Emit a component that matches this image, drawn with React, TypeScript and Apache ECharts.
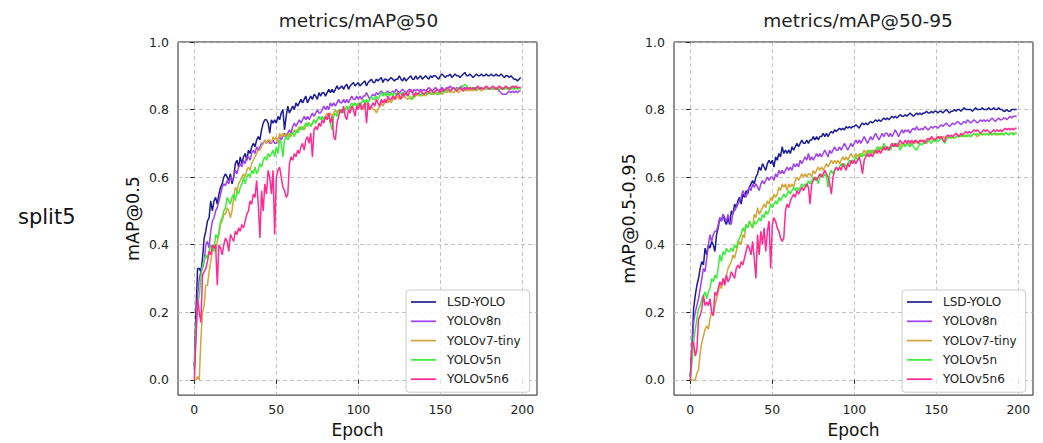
import React, { useEffect, useRef } from "react";
import * as echarts from "echarts";

const SERIES_NAMES = ["LSD-YOLO", "YOLOv8n", "YOLOv7-tiny", "YOLOv5n", "YOLOv5n6"];
const COLORS = ["#1c1c96", "#a040f0", "#d4a537", "#3cee3c", "#ff2a92"];
const X_TICKS = [0, 50, 100, 150, 200];
const Y_TICKS = [0, 0.2, 0.4, 0.6, 0.8, 1.0];
const TITLES = ["metrics/mAP@50", "metrics/mAP@50-95"];
const Y_NAMES = ["mAP@0.5", "mAP@0.5-0.95"];
const X_NAME = "Epoch";
const ROW_LABEL = "split5";

// ---- metrics/mAP@50 (epochs 0..199) ----
const L_LSD = [
0.04,0.20,0.33,0.33,0.32,0.36,0.42,0.44,0.47,0.48,
0.53,0.50,0.53,0.54,0.52,0.55,0.57,0.58,0.60,0.61,
0.60,0.59,0.61,0.58,0.60,0.64,0.65,0.63,0.66,0.64,
0.66,0.67,0.65,0.68,0.67,0.69,0.70,0.69,0.71,0.72,
0.71,0.74,0.76,0.77,0.77,0.76,0.73,0.77,0.76,0.77,
0.76,0.78,0.77,0.79,0.80,0.74,0.78,0.81,0.79,0.80,
0.81,0.80,0.82,0.81,0.82,0.83,0.82,0.83,0.84,0.82,
0.83,0.84,0.83,0.845,0.84,0.83,0.85,0.84,0.85,0.85,
0.84,0.85,0.86,0.85,0.86,0.85,0.86,0.87,0.86,0.865,
0.87,0.86,0.87,0.875,0.86,0.87,0.875,0.88,0.87,0.875,
0.88,0.87,0.875,0.88,0.885,0.87,0.88,0.885,0.89,0.88,
0.88,0.89,0.885,0.89,0.895,0.88,0.89,0.89,0.885,0.89,
0.895,0.89,0.885,0.89,0.89,0.90,0.89,0.885,0.895,0.885,
0.89,0.895,0.90,0.89,0.89,0.90,0.89,0.895,0.90,0.89,
0.895,0.90,0.895,0.89,0.90,0.895,0.90,0.90,0.895,0.89,
0.90,0.905,0.90,0.895,0.90,0.90,0.905,0.895,0.90,0.905,
0.90,0.90,0.895,0.90,0.905,0.91,0.90,0.90,0.905,0.90,
0.895,0.90,0.905,0.90,0.90,0.905,0.90,0.90,0.905,0.90,
0.90,0.905,0.90,0.90,0.905,0.90,0.90,0.905,0.90,0.895,
0.90,0.90,0.895,0.90,0.895,0.89,0.89,0.885,0.89,0.895];
const L_V8 = [
0.03,0.15,0.25,0.30,0.32,0.33,0.35,0.40,0.41,0.39,
0.44,0.47,0.48,0.50,0.51,0.53,0.55,0.57,0.58,0.575,
0.59,0.58,0.60,0.59,0.60,0.62,0.61,0.63,0.64,0.63,
0.65,0.64,0.66,0.66,0.65,0.67,0.68,0.67,0.69,0.68,
0.69,0.70,0.70,0.71,0.70,0.71,0.70,0.70,0.71,0.70,
0.70,0.71,0.72,0.71,0.72,0.73,0.72,0.73,0.74,0.73,
0.75,0.76,0.75,0.76,0.77,0.76,0.77,0.78,0.77,0.78,
0.77,0.78,0.79,0.78,0.79,0.80,0.79,0.79,0.80,0.81,
0.80,0.81,0.80,0.82,0.81,0.82,0.81,0.82,0.83,0.82,
0.82,0.83,0.82,0.83,0.82,0.83,0.84,0.83,0.83,0.84,
0.83,0.84,0.83,0.84,0.84,0.85,0.84,0.83,0.84,0.845,
0.84,0.85,0.845,0.85,0.855,0.85,0.845,0.85,0.855,0.85,
0.85,0.855,0.85,0.86,0.855,0.85,0.855,0.86,0.855,0.85,
0.855,0.86,0.855,0.85,0.86,0.855,0.86,0.855,0.86,0.855,
0.86,0.855,0.86,0.865,0.86,0.855,0.86,0.865,0.86,0.855,
0.86,0.865,0.86,0.855,0.86,0.865,0.87,0.86,0.865,0.86,
0.865,0.86,0.865,0.87,0.86,0.865,0.86,0.865,0.86,0.865,
0.86,0.865,0.86,0.865,0.86,0.865,0.86,0.86,0.865,0.86,
0.86,0.865,0.86,0.86,0.865,0.86,0.855,0.85,0.845,0.845,
0.845,0.85,0.855,0.85,0.855,0.85,0.855,0.85,0.855,0.855];
const L_V7 = [
0.00,0.00,0.01,0.00,0.12,0.20,0.22,0.28,0.28,0.32,
0.35,0.38,0.40,0.38,0.41,0.43,0.46,0.47,0.49,0.49,
0.51,0.50,0.48,0.50,0.54,0.57,0.56,0.58,0.59,0.60,
0.61,0.60,0.62,0.63,0.62,0.64,0.65,0.66,0.67,0.68,
0.68,0.69,0.70,0.71,0.70,0.71,0.71,0.70,0.72,0.71,
0.72,0.70,0.73,0.72,0.73,0.72,0.73,0.72,0.73,0.72,
0.73,0.74,0.73,0.74,0.75,0.74,0.75,0.74,0.75,0.76,
0.76,0.75,0.76,0.77,0.76,0.77,0.78,0.77,0.78,0.77,
0.78,0.79,0.78,0.79,0.78,0.79,0.80,0.79,0.80,0.79,
0.80,0.79,0.80,0.81,0.80,0.81,0.80,0.81,0.82,0.81,
0.81,0.82,0.81,0.80,0.81,0.82,0.81,0.80,0.81,0.80,
0.80,0.79,0.80,0.81,0.82,0.81,0.82,0.83,0.82,0.83,
0.82,0.83,0.84,0.83,0.84,0.83,0.84,0.835,0.84,0.835,
0.83,0.835,0.83,0.84,0.835,0.84,0.845,0.84,0.845,0.84,
0.845,0.84,0.845,0.85,0.845,0.85,0.845,0.85,0.845,0.85,
0.85,0.845,0.85,0.855,0.85,0.855,0.85,0.855,0.85,0.855,
0.855,0.85,0.855,0.86,0.855,0.86,0.855,0.86,0.855,0.86,
0.855,0.86,0.855,0.86,0.86,0.855,0.86,0.86,0.865,0.86,
0.86,0.865,0.86,0.86,0.865,0.86,0.865,0.86,0.865,0.86,
0.865,0.86,0.865,0.86,0.865,0.86,0.865,0.86,0.865,0.865];
const L_V5 = [
0.03,0.15,0.22,0.25,0.30,0.34,0.35,0.37,0.36,0.38,
0.40,0.39,0.38,0.43,0.42,0.44,0.47,0.48,0.50,0.51,
0.54,0.53,0.52,0.54,0.55,0.53,0.56,0.55,0.57,0.58,
0.60,0.58,0.60,0.61,0.60,0.62,0.61,0.63,0.61,0.62,
0.64,0.63,0.65,0.66,0.65,0.67,0.66,0.67,0.68,0.66,
0.69,0.67,0.71,0.70,0.66,0.71,0.72,0.71,0.72,0.73,
0.73,0.72,0.74,0.73,0.74,0.75,0.74,0.75,0.76,0.75,
0.76,0.75,0.76,0.77,0.76,0.77,0.78,0.77,0.78,0.77,
0.78,0.77,0.78,0.76,0.74,0.78,0.79,0.78,0.80,0.79,
0.80,0.79,0.80,0.81,0.80,0.81,0.82,0.81,0.82,0.81,
0.82,0.81,0.82,0.83,0.82,0.83,0.82,0.83,0.84,0.83,
0.83,0.84,0.83,0.84,0.85,0.84,0.85,0.84,0.85,0.84,
0.85,0.84,0.85,0.845,0.85,0.845,0.85,0.84,0.85,0.845,
0.85,0.84,0.835,0.83,0.84,0.85,0.845,0.85,0.84,0.85,
0.845,0.85,0.845,0.855,0.85,0.845,0.85,0.855,0.85,0.845,
0.85,0.855,0.85,0.86,0.855,0.86,0.855,0.86,0.865,0.86,
0.86,0.865,0.86,0.865,0.87,0.875,0.87,0.865,0.86,0.865,
0.86,0.865,0.86,0.865,0.86,0.865,0.86,0.865,0.86,0.865,
0.86,0.865,0.86,0.865,0.86,0.865,0.86,0.865,0.86,0.86,
0.865,0.86,0.865,0.86,0.865,0.86,0.865,0.86,0.865,0.86];
const L_V5N6 = [
0.00,0.12,0.24,0.20,0.17,0.31,0.32,0.33,0.35,0.38,
0.37,0.40,0.39,0.40,0.28,0.40,0.39,0.37,0.40,0.42,
0.41,0.38,0.43,0.42,0.41,0.44,0.43,0.45,0.44,0.46,
0.45,0.47,0.49,0.50,0.53,0.52,0.55,0.54,0.59,0.52,
0.42,0.56,0.50,0.58,0.55,0.62,0.60,0.55,0.62,0.43,
0.60,0.62,0.63,0.60,0.57,0.56,0.54,0.55,0.64,0.66,
0.65,0.67,0.66,0.68,0.67,0.69,0.70,0.68,0.71,0.72,
0.70,0.73,0.66,0.74,0.75,0.74,0.76,0.75,0.77,0.76,
0.78,0.77,0.79,0.76,0.78,0.72,0.71,0.76,0.78,0.80,
0.79,0.81,0.78,0.77,0.80,0.79,0.81,0.80,0.78,0.81,
0.80,0.82,0.80,0.81,0.82,0.76,0.82,0.80,0.81,0.82,
0.81,0.83,0.82,0.81,0.83,0.82,0.83,0.82,0.84,0.83,
0.83,0.84,0.83,0.84,0.85,0.84,0.83,0.85,0.84,0.85,
0.84,0.85,0.86,0.85,0.84,0.85,0.845,0.85,0.855,0.85,
0.845,0.85,0.855,0.85,0.86,0.855,0.85,0.855,0.86,0.855,
0.85,0.86,0.855,0.86,0.865,0.86,0.855,0.86,0.865,0.86,
0.855,0.86,0.865,0.86,0.855,0.86,0.865,0.86,0.865,0.86,
0.865,0.86,0.865,0.87,0.86,0.865,0.86,0.865,0.87,0.865,
0.86,0.865,0.87,0.865,0.86,0.865,0.87,0.865,0.86,0.865,
0.87,0.865,0.86,0.865,0.87,0.865,0.87,0.865,0.865,0.865];

// ---- metrics/mAP@50-95 (epochs 0..199) ----
const R_LSD = [
0.01,0.10,0.21,0.25,0.28,0.30,0.33,0.35,0.34,0.39,
0.37,0.40,0.39,0.41,0.40,0.38,0.43,0.45,0.48,0.47,
0.49,0.47,0.46,0.48,0.46,0.50,0.49,0.52,0.51,0.53,
0.54,0.52,0.55,0.54,0.56,0.55,0.57,0.58,0.59,0.58,
0.60,0.61,0.63,0.62,0.64,0.63,0.62,0.64,0.65,0.64,
0.65,0.63,0.66,0.65,0.67,0.66,0.69,0.67,0.68,0.67,
0.68,0.67,0.69,0.68,0.69,0.70,0.69,0.70,0.71,0.70,
0.70,0.71,0.70,0.71,0.71,0.72,0.71,0.72,0.71,0.72,
0.72,0.73,0.72,0.73,0.72,0.73,0.735,0.73,0.74,0.735,
0.74,0.745,0.74,0.745,0.74,0.75,0.745,0.75,0.745,0.75,
0.75,0.755,0.75,0.745,0.755,0.76,0.755,0.76,0.755,0.76,
0.765,0.76,0.765,0.77,0.765,0.77,0.765,0.77,0.775,0.77,
0.775,0.77,0.775,0.78,0.775,0.78,0.775,0.78,0.785,0.78,
0.78,0.785,0.78,0.785,0.79,0.785,0.78,0.785,0.79,0.785,
0.79,0.785,0.79,0.79,0.795,0.79,0.79,0.795,0.79,0.795,
0.795,0.79,0.795,0.795,0.79,0.795,0.80,0.795,0.79,0.795,
0.795,0.80,0.795,0.80,0.80,0.795,0.80,0.805,0.80,0.80,
0.80,0.80,0.795,0.80,0.805,0.80,0.80,0.80,0.805,0.80,
0.80,0.80,0.805,0.80,0.80,0.805,0.80,0.80,0.805,0.80,
0.80,0.795,0.795,0.80,0.795,0.795,0.80,0.80,0.80,0.80];
const R_V8 = [
0.01,0.08,0.17,0.20,0.22,0.24,0.27,0.30,0.33,0.32,
0.36,0.40,0.43,0.41,0.43,0.44,0.44,0.46,0.48,0.47,
0.49,0.48,0.47,0.49,0.47,0.46,0.50,0.50,0.51,0.52,
0.53,0.54,0.56,0.55,0.54,0.56,0.57,0.56,0.58,0.57,
0.58,0.57,0.56,0.58,0.59,0.58,0.59,0.60,0.59,0.60,
0.60,0.59,0.61,0.60,0.62,0.61,0.62,0.61,0.62,0.63,
0.62,0.63,0.62,0.64,0.63,0.64,0.63,0.65,0.64,0.65,
0.66,0.65,0.67,0.65,0.66,0.65,0.66,0.67,0.66,0.67,
0.66,0.67,0.68,0.67,0.66,0.68,0.67,0.68,0.69,0.68,
0.68,0.69,0.68,0.69,0.70,0.69,0.68,0.69,0.70,0.69,
0.70,0.71,0.70,0.71,0.70,0.71,0.72,0.71,0.70,0.71,
0.72,0.71,0.72,0.73,0.72,0.71,0.72,0.73,0.72,0.73,
0.73,0.72,0.73,0.72,0.73,0.74,0.73,0.72,0.73,0.74,
0.73,0.74,0.735,0.74,0.73,0.74,0.745,0.74,0.75,0.74,
0.74,0.745,0.74,0.75,0.745,0.74,0.745,0.75,0.745,0.75,
0.75,0.745,0.75,0.755,0.75,0.755,0.76,0.755,0.75,0.755,
0.76,0.755,0.76,0.765,0.76,0.755,0.76,0.765,0.76,0.77,
0.765,0.76,0.765,0.77,0.765,0.76,0.765,0.77,0.765,0.77,
0.765,0.77,0.765,0.77,0.775,0.77,0.765,0.77,0.775,0.77,
0.77,0.775,0.775,0.77,0.775,0.78,0.775,0.78,0.78,0.78];
const R_V7 = [
0.00,0.00,0.00,0.00,0.02,0.03,0.08,0.11,0.13,0.15,
0.16,0.15,0.18,0.20,0.19,0.22,0.24,0.26,0.28,0.27,
0.30,0.29,0.31,0.33,0.34,0.35,0.37,0.36,0.38,0.40,
0.41,0.40,0.43,0.42,0.46,0.45,0.47,0.46,0.45,0.49,
0.48,0.51,0.49,0.50,0.51,0.52,0.51,0.53,0.52,0.54,
0.53,0.55,0.54,0.55,0.57,0.56,0.58,0.57,0.58,0.56,
0.58,0.57,0.58,0.57,0.59,0.60,0.59,0.60,0.61,0.60,
0.61,0.60,0.61,0.61,0.60,0.62,0.61,0.62,0.63,0.62,
0.63,0.62,0.63,0.64,0.63,0.64,0.65,0.64,0.65,0.64,
0.65,0.64,0.65,0.66,0.65,0.66,0.65,0.66,0.67,0.66,
0.66,0.67,0.66,0.67,0.66,0.67,0.68,0.67,0.68,0.67,
0.68,0.67,0.68,0.67,0.68,0.69,0.68,0.69,0.68,0.69,
0.69,0.68,0.69,0.70,0.69,0.70,0.69,0.70,0.69,0.70,
0.70,0.69,0.70,0.70,0.69,0.70,0.705,0.70,0.71,0.70,
0.705,0.71,0.705,0.71,0.70,0.71,0.715,0.71,0.715,0.71,
0.71,0.715,0.72,0.715,0.72,0.715,0.72,0.715,0.72,0.715,
0.72,0.715,0.72,0.725,0.72,0.725,0.72,0.725,0.72,0.725,
0.725,0.72,0.725,0.73,0.725,0.72,0.725,0.73,0.725,0.73,
0.725,0.73,0.725,0.73,0.725,0.73,0.725,0.73,0.725,0.73,
0.73,0.725,0.73,0.73,0.725,0.73,0.73,0.73,0.73,0.73];
const R_V5 = [
0.00,0.05,0.11,0.15,0.18,0.21,0.22,0.24,0.25,0.26,
0.24,0.26,0.27,0.30,0.29,0.31,0.30,0.33,0.37,0.35,
0.38,0.37,0.39,0.38,0.38,0.39,0.38,0.40,0.39,0.41,
0.42,0.43,0.45,0.44,0.46,0.45,0.47,0.46,0.45,0.47,
0.46,0.47,0.48,0.47,0.49,0.48,0.50,0.49,0.50,0.52,
0.51,0.52,0.53,0.52,0.54,0.53,0.54,0.55,0.54,0.55,
0.56,0.55,0.56,0.57,0.56,0.57,0.56,0.57,0.58,0.57,
0.58,0.57,0.59,0.58,0.59,0.60,0.59,0.60,0.58,0.60,
0.61,0.60,0.61,0.60,0.57,0.61,0.62,0.61,0.62,0.63,
0.62,0.63,0.64,0.63,0.64,0.63,0.64,0.65,0.64,0.65,
0.65,0.66,0.65,0.66,0.67,0.66,0.67,0.66,0.67,0.68,
0.67,0.68,0.67,0.68,0.69,0.68,0.69,0.68,0.70,0.69,
0.68,0.69,0.68,0.69,0.70,0.69,0.70,0.69,0.68,0.69,
0.70,0.69,0.70,0.695,0.69,0.70,0.69,0.685,0.68,0.69,
0.70,0.695,0.70,0.705,0.70,0.71,0.705,0.70,0.71,0.705,
0.71,0.705,0.71,0.715,0.71,0.70,0.71,0.715,0.72,0.715,
0.72,0.715,0.72,0.72,0.725,0.72,0.725,0.72,0.725,0.72,
0.725,0.72,0.725,0.73,0.725,0.73,0.725,0.73,0.725,0.73,
0.725,0.73,0.725,0.73,0.725,0.73,0.73,0.725,0.73,0.725,
0.73,0.725,0.73,0.73,0.725,0.73,0.73,0.725,0.73,0.73];
const R_V5N6 = [
0.00,0.11,0.11,0.07,0.09,0.18,0.19,0.21,0.25,0.22,
0.23,0.22,0.24,0.20,0.19,0.26,0.25,0.27,0.29,0.28,
0.30,0.28,0.31,0.29,0.30,0.32,0.31,0.30,0.33,0.34,
0.33,0.35,0.34,0.36,0.38,0.40,0.39,0.37,0.41,0.36,
0.30,0.43,0.37,0.44,0.40,0.45,0.38,0.44,0.47,0.33,
0.46,0.48,0.47,0.45,0.44,0.42,0.41,0.42,0.50,0.52,
0.51,0.53,0.54,0.55,0.54,0.56,0.55,0.56,0.57,0.56,
0.57,0.58,0.57,0.52,0.58,0.59,0.60,0.59,0.60,0.61,
0.60,0.61,0.62,0.61,0.60,0.58,0.55,0.60,0.62,0.63,
0.62,0.63,0.62,0.64,0.63,0.62,0.64,0.63,0.65,0.64,
0.65,0.64,0.65,0.66,0.64,0.61,0.65,0.66,0.67,0.66,
0.67,0.66,0.67,0.68,0.67,0.68,0.67,0.68,0.69,0.68,
0.69,0.68,0.69,0.70,0.69,0.70,0.69,0.70,0.71,0.70,
0.70,0.71,0.70,0.71,0.70,0.71,0.70,0.71,0.705,0.70,
0.71,0.705,0.71,0.70,0.71,0.715,0.71,0.72,0.715,0.71,
0.715,0.72,0.715,0.72,0.71,0.705,0.72,0.725,0.72,0.725,
0.72,0.725,0.73,0.725,0.72,0.73,0.725,0.73,0.735,0.73,
0.735,0.73,0.735,0.74,0.735,0.74,0.735,0.73,0.735,0.74,
0.735,0.74,0.735,0.73,0.735,0.74,0.735,0.74,0.735,0.74,
0.735,0.74,0.745,0.74,0.745,0.74,0.745,0.74,0.745,0.745];

const LEFT_SERIES = [L_LSD, L_V8, L_V7, L_V5, L_V5N6];
const RIGHT_SERIES = [R_LSD, R_V8, R_V7, R_V5, R_V5N6];

const FONT = "DejaVu Sans";
const GRIDS = [
  { left: 178, top: 42, width: 359, height: 356 },
  { left: 674, top: 42, width: 359, height: 356 },
];

function buildOption() {
  const xAxis = GRIDS.map((_, i) => ({
    type: "value",
    gridIndex: i,
    min: -9.95,
    max: 208.95,
    name: X_NAME,
    nameLocation: "middle",
    nameGap: 23,
    nameTextStyle: { fontFamily: FONT, fontSize: 17, color: "#111" },
    axisLine: { show: false },
    axisTick: { show: true, length: 4, lineStyle: { color: "#222", width: 1 }, customValues: X_TICKS },
    axisLabel: { customValues: X_TICKS, margin: 8, fontFamily: FONT, fontSize: 12.5, color: "#222" },
    splitLine: { show: true, lineStyle: { color: "#b4b4b4", width: 0.8, type: [4, 3] } },
  }));
  const yAxis = GRIDS.map((_, i) => ({
    type: "value",
    gridIndex: i,
    min: -0.045,
    max: 1.0,
    name: Y_NAMES[i],
    nameLocation: "middle",
    nameRotate: 90,
    nameGap: 36,
    nameTextStyle: { fontFamily: FONT, fontSize: 17.5, color: "#111" },
    axisLine: { show: false },
    axisTick: { show: true, length: 4, lineStyle: { color: "#222", width: 1 }, customValues: Y_TICKS },
    axisLabel: {
      customValues: Y_TICKS,
      margin: 9,
      fontFamily: FONT,
      fontSize: 12.5,
      color: "#222",
      formatter: (v: number) => v.toFixed(1),
    },
    splitLine: { show: true, lineStyle: { color: "#b4b4b4", width: 0.8, type: [4, 3] } },
  }));
  const series: any[] = [];
  [LEFT_SERIES, RIGHT_SERIES].forEach((group, gi) => {
    group.forEach((vals, si) => {
      series.push({
        type: "line",
        name: SERIES_NAMES[si],
        xAxisIndex: gi,
        yAxisIndex: gi,
        data: vals.map((v, i) => [i, v]),
        symbol: "none",
        showSymbol: false,
        lineStyle: { width: 1.5, color: COLORS[si] },
        itemStyle: { color: COLORS[si] },
        emphasis: { disabled: true },
        silent: true,
        z: 2 + si,
      });
    });
  });
  const legend = [406, 902].map((left) => ({
    data: SERIES_NAMES,
    orient: "vertical",
    left,
    top: 290,
    icon: "rect",
    itemWidth: 25,
    itemHeight: 1.7,
    itemGap: 5.3,
    padding: [5, 9, 6, 5],
    backgroundColor: "rgba(255,255,255,0.85)",
    borderColor: "#cccccc",
    borderWidth: 1,
    borderRadius: 3,
    selectedMode: false,
    textStyle: { fontFamily: FONT, fontSize: 12, color: "#222", lineHeight: 14, padding: [0, 0, 0, 6] },
  }));
  return {
    animation: false,
    backgroundColor: "#ffffff",
    title: [
      { text: TITLES[0], left: 358.5, top: 11, textAlign: "center", padding: 0,
        textStyle: { fontFamily: FONT, fontSize: 18.5, fontWeight: "normal", color: "#222" } },
      { text: TITLES[1], left: 858, top: 11, textAlign: "center", padding: 0,
        textStyle: { fontFamily: FONT, fontSize: 18.5, fontWeight: "normal", color: "#222" } },
    ],
    grid: GRIDS.map((g) => ({ ...g, show: true, borderColor: "#222", borderWidth: 1, backgroundColor: "transparent" })),
    xAxis,
    yAxis,
    legend,
    series,
    graphic: [
      {
        type: "text",
        left: 18,
        top: 206,
        style: { text: ROW_LABEL, fontFamily: FONT, fontSize: 21, fill: "#111" },
      },
    ],
  };
}

export default function App() {
  const ref = useRef<HTMLDivElement>(null);
  useEffect(() => {
    if (!ref.current) return;
    const chart = echarts.init(ref.current, null, { renderer: "svg" });
    chart.setOption(buildOption() as any);
    return () => chart.dispose();
  }, []);
  return (
    <div
      ref={ref}
      style={{ position: "absolute", left: 0, top: 0, width: 1043, height: 443, background: "#fff" }}
    />
  );
}
